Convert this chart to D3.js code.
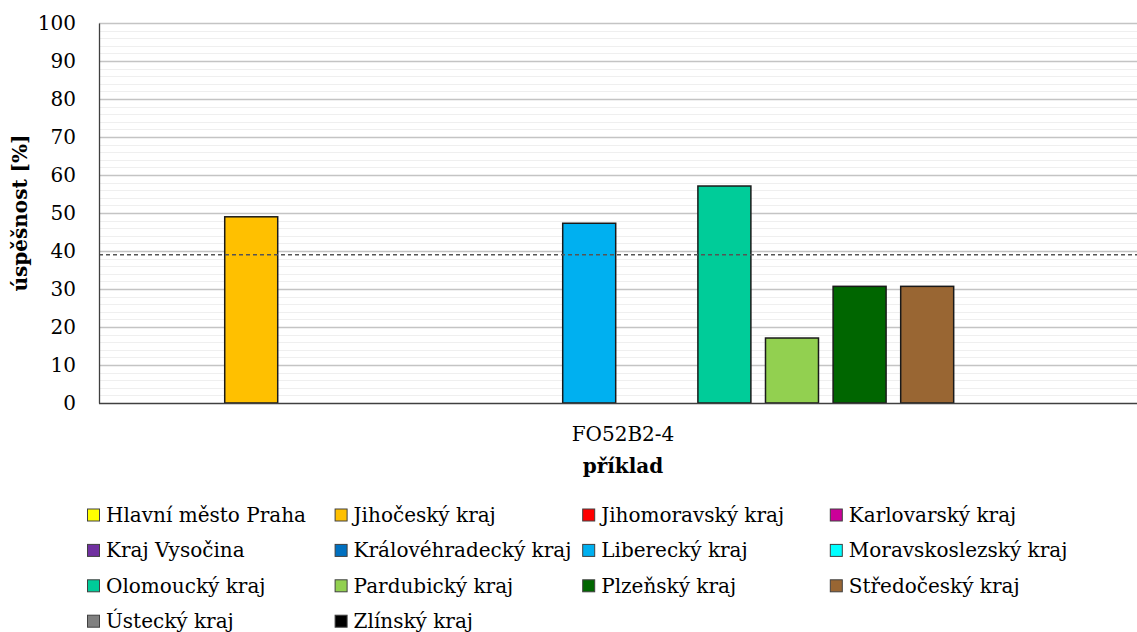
<!DOCTYPE html>
<html>
<head>
<meta charset="utf-8">
<script src="https://cdn.jsdelivr.net/npm/d3@7"></script>
<style>
  html, body { margin: 0; padding: 0; background: #fff; }
  svg { display: block; }
  text { font-family: "DejaVu Serif", "Liberation Serif", serif; fill: #000; }
</style>
</head>
<body>
<script>
// Success rate per region for task FO52B2-4
const tasks = ["FO52B2-4"];
const regions = [
  "Hlavní město Praha", "Jihočeský kraj", "Jihomoravský kraj", "Karlovarský kraj",
  "Kraj Vysočina", "Královéhradecký kraj", "Liberecký kraj", "Moravskoslezský kraj",
  "Olomoucký kraj", "Pardubický kraj", "Plzeňský kraj", "Středočeský kraj",
  "Ústecký kraj", "Zlínský kraj"
];
const regionColors = [
  "#FFFF00", "#FFC000", "#FF0000", "#CC0099",
  "#7030A0", "#0070C0", "#00B0F0", "#00FFFF",
  "#00CC99", "#92D050", "#006600", "#996633",
  "#808080", "#000000"
];
const successRates = [null, 49.0, null, null, null, null, 47.3, null, 57.1, 17.1, 30.7, 30.7, null, null];
const averageRate = 39.0;
const yTicks = [0, 10, 20, 30, 40, 50, 60, 70, 80, 90, 100];

const W = 1137, H = 632;
const plot = { left: 99, right: 1147, top: 23, bottom: 403 };
const fontSize = "20px";

const svg = d3.select("body").append("svg").attr("width", W).attr("height", H);

const y = d3.scaleLinear().domain([0, 100]).range([plot.bottom, plot.top]);
const x0 = d3.scaleBand().domain(tasks).range([plot.left, plot.right]).paddingOuter(0.0537).paddingInner(0);
const x1 = d3.scaleBand().domain(regions).range([0, x0.bandwidth()]).paddingInner(0.216).paddingOuter(0.108);
const color = d3.scaleOrdinal().domain(regions).range(regionColors);

// minor gridlines every 2 %
const minor = d3.range(2, 100, 2).filter(v => v % 10 !== 0);
svg.append("g").selectAll("line").data(minor).join("line")
  .attr("x1", plot.left).attr("x2", plot.right)
  .attr("y1", d => Math.round(y(d)) + 0.5).attr("y2", d => Math.round(y(d)) + 0.5)
  .attr("stroke", "#efefef").attr("stroke-width", 1);

// major gridlines every 10 %
svg.append("g").selectAll("line").data(yTicks.filter(v => v > 0)).join("line")
  .attr("x1", plot.left).attr("x2", plot.right)
  .attr("y1", d => Math.round(y(d)) + 0.5).attr("y2", d => Math.round(y(d)) + 0.5)
  .attr("stroke", "#c4c4c4").attr("stroke-width", 1.3);

// bars
const barData = regions.map((r, i) => ({ region: r, value: successRates[i] })).filter(d => d.value != null);
svg.append("g").selectAll("rect").data(barData).join("rect")
  .attr("x", d => x0(tasks[0]) + x1(d.region))
  .attr("y", d => y(d.value))
  .attr("width", x1.bandwidth())
  .attr("height", d => y(0) - y(d.value))
  .attr("fill", d => color(d.region))
  .attr("stroke", "#1a1a1a").attr("stroke-width", 1.5);

// average line
svg.append("line")
  .attr("x1", plot.left).attr("x2", plot.right)
  .attr("y1", y(averageRate)).attr("y2", y(averageRate))
  .attr("stroke", "#555").attr("stroke-width", 1.4).attr("stroke-dasharray", "4,3");

// y axis
const yAxis = svg.append("g").attr("transform", `translate(${plot.left},0)`)
  .call(d3.axisLeft(y).tickValues(yTicks).tickSize(0).tickPadding(23));
yAxis.select(".domain").attr("stroke", "#404040").attr("stroke-width", 1.3);
yAxis.selectAll("text").style("font-size", fontSize).attr("fill", "#000");

// x axis
const xAxis = svg.append("g").attr("transform", `translate(0,${plot.bottom})`)
  .call(d3.axisBottom(x0).tickSize(0).tickPadding(24));
xAxis.select(".domain").attr("d", `M${plot.left},0.5H${plot.right}`).attr("stroke", "#404040").attr("stroke-width", 1.5);
xAxis.selectAll("text").style("font-size", fontSize).attr("fill", "#000");

// axis titles
svg.append("text")
  .attr("transform", `translate(27,${(plot.top + plot.bottom) / 2}) rotate(-90)`)
  .attr("text-anchor", "middle").style("font-size", fontSize).style("font-weight", "bold")
  .text("úspěšnost [%]");
svg.append("text")
  .attr("x", x0(tasks[0]) + x0.bandwidth() / 2).attr("y", 473)
  .attr("text-anchor", "middle").style("font-size", fontSize).style("font-weight", "bold")
  .text("příklad");

// legend
const legend = svg.append("g");
const cols = 4, colStep = 247.6, rowStep = 35.4;
const items = legend.selectAll("g").data(regions).join("g")
  .attr("transform", (d, i) => `translate(${87 + (i % cols) * colStep},${515 + Math.floor(i / cols) * rowStep})`);
items.append("rect")
  .attr("x", 0.5).attr("y", -6).attr("width", 12).attr("height", 12)
  .attr("fill", d => color(d)).attr("stroke", "#404040").attr("stroke-width", 1);
items.append("text")
  .attr("x", 19).attr("y", 7)
  .style("font-size", fontSize)
  .text(d => d);
</script>
</body>
</html>
